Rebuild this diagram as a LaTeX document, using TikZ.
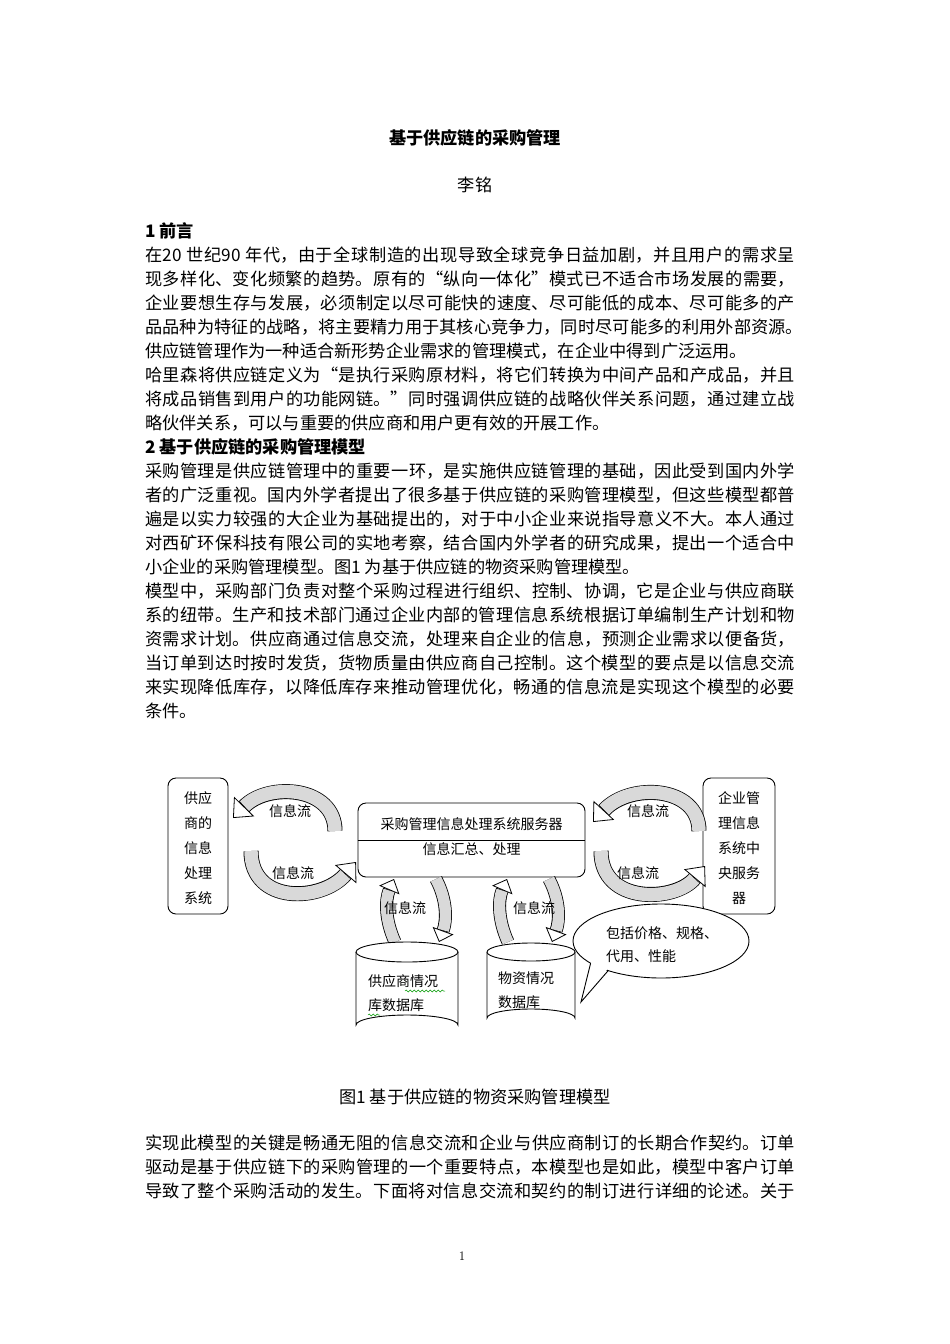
\documentclass[tikz,border=0pt]{standalone}
\usepackage{fontspec}
\usetikzlibrary{arrows.meta,decorations.pathmorphing}
\newfontfamily\cjk{Noto Sans CJK SC}
\XeTeXlinebreaklocale "zh"
\XeTeXlinebreakskip=0pt plus 3pt minus 0.3pt
\newcommand{\fullline}[1]{\parbox{650pt}{\XeTeXlinebreakpenalty=10000\parfillskip=0pt\relax\hfuzz=20pt #1}}
\tikzset{
 body/.style={anchor=west,inner sep=0pt,font=\cjk\fontsize{17.2}{20}\selectfont},
 dtext/.style={inner sep=0pt,font=\cjk\fontsize{14}{16}\selectfont},
 box/.style={draw,rounded corners=8pt,line width=0.9pt,fill=white},
 bandout/.style={line width=15pt,black,-{Triangle[length=16pt,width=28pt,fill=white,line width=0.8pt]}},
 bandin/.style={line width=13.4pt,gray!30,shorten >=16.5pt},
 vbandout/.style={line width=13pt,black,-{Triangle[length=12pt,width=22pt,fill=white,line width=0.8pt]}},
 vbandin/.style={line width=11.4pt,gray!30,shorten >=12.5pt},
 squig/.style={green!60!black,decorate,decoration={snake,amplitude=1pt,segment length=4pt},line width=0.5pt}
}
\newcommand{\carrow}[1]{\draw[bandout] #1; \draw[bandin] #1;}
\newcommand{\varrow}[1]{\draw[vbandout] #1; \draw[vbandin] #1;}
\begin{document}
\begin{tikzpicture}[x=1pt,y=-1pt]
\useasboundingbox[fill=white] (0,0) rectangle (950,1344);
% text
\node[body,anchor=center] (title) at (475,138) {\bfseries 基于供应链的采购管理};
\node[body,anchor=center] (author) at (475,185) {李铭};
\node[body] (h1) at (145,231) {\bfseries 1 前言};
\node[body] (l1) at (145,255) {\fullline{在20 世纪90 年代，由于全球制造的出现导致全球竞争日益加剧，并且用户的需求呈}};
\node[body] (l2) at (145,279) {\fullline{现多样化、变化频繁的趋势。原有的“纵向一体化”模式已不适合市场发展的需要，}};
\node[body] (l3) at (145,303) {\fullline{企业要想生存与发展，必须制定以尽可能快的速度、尽可能低的成本、尽可能多的产}};
\node[body] (l4) at (145,327) {\parbox{658pt}{\XeTeXlinebreakpenalty=10000\parfillskip=0pt\relax\hfuzz=20pt 品品种为特征的战略，将主要精力用于其核心竞争力，同时尽可能多的利用外部资源。}};
\node[body] (l5) at (145,351) {供应链管理作为一种适合新形势企业需求的管理模式，在企业中得到广泛运用。};
\node[body] (l6) at (145,375) {\fullline{哈里森将供应链定义为“是执行采购原材料，将它们转换为中间产品和产成品，并且}};
\node[body] (l7) at (145,399) {\fullline{将成品销售到用户的功能网链。”同时强调供应链的战略伙伴关系问题，通过建立战}};
\node[body] (l8) at (145,423) {略伙伴关系，可以与重要的供应商和用户更有效的开展工作。};
\node[body] (h2) at (145,447) {\bfseries 2 基于供应链的采购管理模型};
\node[body] (l9) at (145,471) {\fullline{采购管理是供应链管理中的重要一环，是实施供应链管理的基础，因此受到国内外学}};
\node[body] (l10) at (145,495) {\fullline{者的广泛重视。国内外学者提出了很多基于供应链的采购管理模型，但这些模型都普}};
\node[body] (l11) at (145,519) {\fullline{遍是以实力较强的大企业为基础提出的，对于中小企业来说指导意义不大。本人通过}};
\node[body] (l12) at (145,543) {\fullline{对西矿环保科技有限公司的实地考察，结合国内外学者的研究成果，提出一个适合中}};
\node[body] (l13) at (145,567) {小企业的采购管理模型。图1 为基于供应链的物资采购管理模型。};
\node[body] (l14) at (145,591) {\fullline{模型中，采购部门负责对整个采购过程进行组织、控制、协调，它是企业与供应商联}};
\node[body] (l15) at (145,615) {\fullline{系的纽带。生产和技术部门通过企业内部的管理信息系统根据订单编制生产计划和物}};
\node[body] (l16) at (145,639) {\fullline{资需求计划。供应商通过信息交流，处理来自企业的信息，预测企业需求以便备货，}};
\node[body] (l17) at (145,663) {\fullline{当订单到达时按时发货，货物质量由供应商自己控制。这个模型的要点是以信息交流}};
\node[body] (l18) at (145,687) {\fullline{来实现降低库存，以降低库存来推动管理优化，畅通的信息流是实现这个模型的必要}};
\node[body] (l19) at (145,711) {条件。};
\node[body,anchor=center] (cap) at (475,1097) {图1 基于供应链的物资采购管理模型};
\node[body] (m1) at (145,1143) {\fullline{实现此模型的关键是畅通无阻的信息交流和企业与供应商制订的长期合作契约。订单}};
\node[body] (m2) at (145,1167) {\fullline{驱动是基于供应链下的采购管理的一个重要特点，本模型也是如此，模型中客户订单}};
\node[body] (m3) at (145,1191) {\fullline{导致了整个采购活动的发生。下面将对信息交流和契约的制订进行详细的论述。关于}};
\node[inner sep=0pt,font=\fontsize{13}{15}\selectfont] (pg) at (462,1256) {1};
% diagram boxes
\node[box,minimum width=60pt,minimum height=136pt] (sup) at (198,846) {};
\node[dtext,align=center] (supt) at (198,848) {供应\\[9pt]商的\\[9pt]信息\\[9pt]处理\\[9pt]系统};
\node[box,minimum width=72pt,minimum height=136pt] (ent) at (739,846) {};
\node[dtext,align=center] (entt) at (739,848) {企业管\\[9pt]理信息\\[9pt]系统中\\[9pt]央服务\\[9pt]器};
\node[box,minimum width=227pt,minimum height=74pt] (srv) at (471.5,840) {};
\draw[line width=0.9pt] (srv.west |- 0,840) -- (srv.east |- 0,840);
\node[dtext] (srvt) at (471.5,824) {采购管理信息处理系统服务器};
\node[dtext] (srvt2) at (471.5,849) {信息汇总、处理};
% curved arrows
\coordinate (tl1) at (335,831); \coordinate (tl2) at (233,818);
\carrow{(tl1) .. controls (335,786) and (268,782) .. (tl2)}
\coordinate (bl1) at (251,851); \coordinate (bl2) at (356,862);
\carrow{(bl1) .. controls (251,905) and (322,902) .. (bl2)}
\coordinate (tr1) at (699,831); \coordinate (tr2) at (593,822);
\carrow{(tr1) .. controls (699,786) and (630,782) .. (tr2)}
\coordinate (br1) at (601,851); \coordinate (br2) at (705,866);
\carrow{(br1) .. controls (601,905) and (675,902) .. (br2)}
\node[dtext] (f1) at (290,811) {信息流};
\node[dtext] (f2) at (293,873) {信息流};
\node[dtext] (f3) at (648,811) {信息流};
\node[dtext] (f4) at (638,873) {信息流};
% vertical arrows
\coordinate (v1a) at (395,942); \coordinate (v1b) at (394,879);
\varrow{(v1a) .. controls (385,920) and (385,900) .. (v1b)}
\coordinate (v2a) at (436,879); \coordinate (v2b) at (439,942);
\varrow{(v2a) .. controls (447,900) and (447,920) .. (v2b)}
\coordinate (v3a) at (508,942); \coordinate (v3b) at (507,879);
\varrow{(v3a) .. controls (498,920) and (498,900) .. (v3b)}
\coordinate (v4a) at (549,879); \coordinate (v4b) at (552,942);
\varrow{(v4a) .. controls (560,900) and (560,920) .. (v4b)}
\node[dtext] (f5) at (405,908) {信息流};
\node[dtext] (f6) at (534,908) {信息流};
% cylinders
\draw[line width=0.9pt,fill=white] (356,952) -- (356,1025) arc[start angle=180,end angle=360,x radius=51,y radius=10] -- (458,952);
\draw[line width=0.9pt,fill=white] (407,952) ellipse[x radius=51,y radius=10];
\node[dtext,align=left,anchor=west] (db1) at (368,993) {供应商情况\\[8pt]库数据库};
\draw[squig] (405,991) -- (445,991);
\draw[squig] (368,1015) -- (380,1015);
\draw[line width=0.9pt,fill=white] (487,952) -- (487,1018) arc[start angle=180,end angle=360,x radius=44,y radius=9] -- (575,952);
\draw[line width=0.9pt,fill=white] (531,952) ellipse[x radius=44,y radius=9];
\node[dtext,align=left,anchor=west] (db2) at (498,990) {物资情况\\[8pt]数据库};
% callout
\draw[line width=0.9pt,fill=white] (661,941) ellipse[x radius=88,y radius=37];
\fill[white] (591.5,962) -- (581,1002) -- (607,969.5) -- (615,955) -- cycle;
\coordinate (tip) at (581,1002);
\draw[line width=0.9pt] (590.6,963.2) -- (tip) -- (608.2,970.6);
\node[dtext,align=left,anchor=west] (cal) at (606,945) {包括价格、规格、\\[7pt]代用、性能};
\end{tikzpicture}
\end{document}
